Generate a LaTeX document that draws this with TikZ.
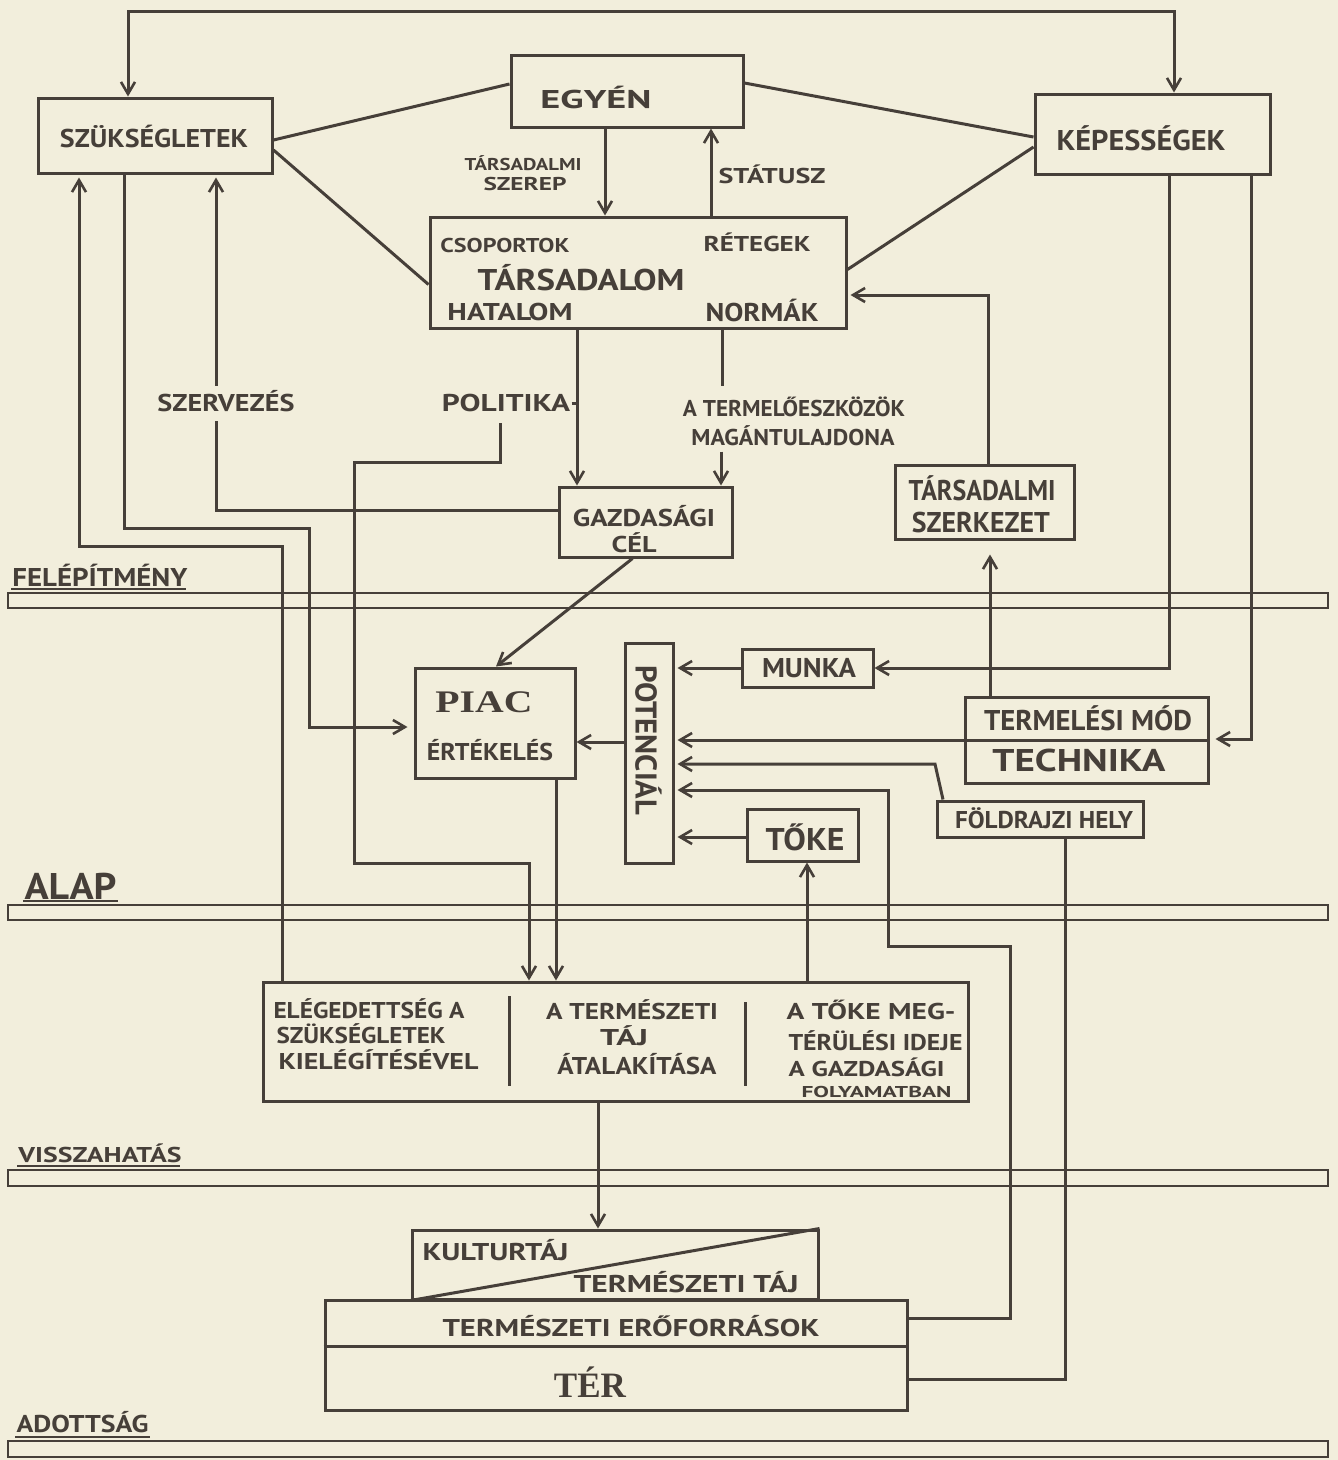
\documentclass[tikz,border=0pt]{standalone}
\usepackage{fontspec}
\setmainfont{PT Sans}
\newfontfamily\seriff{Liberation Serif}
\usetikzlibrary{arrows.meta}
\definecolor{bg}{RGB}{242,238,220}
\definecolor{ink}{RGB}{70,63,57}
\newcommand{\mytxt}[3]{\resizebox{#1pt}{#2pt}{\vphantom{X}\smash{\bfseries #3}}}
\begin{document}
\begin{tikzpicture}[x=1pt,y=-1pt,line width=3pt,color=ink,
  box/.style={draw=ink,line width=3pt,inner sep=0pt},
  band/.style={draw=ink,line width=2.6pt,inner sep=0pt,minimum width=1320},
  lab/.style={text=ink,inner sep=0pt},
  arr/.style={-{Straight Barb[length=12pt,width=14pt,line width=2.6pt]}},
  arrb/.style={{Straight Barb[length=12pt,width=14pt,line width=2.6pt]}-{Straight Barb[length=12pt,width=14pt,line width=2.6pt]}}]
\fill[bg] (0,0) rectangle (1338,1460);
\useasboundingbox (0,0) rectangle (1338,1460);

% bands
\node[band,minimum height=15] (b1) at (668,600.5) {};
\node[band,minimum height=15] (b2) at (668,912.5) {};
\node[band,minimum height=16] (b3) at (668,1178) {};
\node[band,minimum height=16] (b4) at (668,1449) {};
\node[lab,anchor=west] (lfel) at (11,577) {\mytxt{175}{18}{FELÉPÍTMÉNY}};
\node[lab,anchor=west] (lalap) at (23,886) {\mytxt{92}{26}{ALAP}};
\node[lab,anchor=west] (lvissza) at (17,1155) {\mytxt{163}{15}{VISSZAHATÁS}};
\node[lab,anchor=west] (ladott) at (15,1424) {\mytxt{132}{17}{ADOTTSÁG}};
\draw[line width=2.2pt] (lfel.south west |- 0,589) -- (186,589);
\draw[line width=2.2pt] (lalap.south west |- 0,901) -- (118,901);
\draw[line width=2.2pt] (lvissza.south west |- 0,1166) -- (180,1166);
\draw[line width=2.2pt] (ladott.south west |- 0,1437) -- (150,1437);

% boxes
\node[box,minimum width=234,minimum height=75] (szuk) at (155,135.5) {};
\node[box,minimum width=232,minimum height=72] (egyen) at (627,91) {};
\node[box,minimum width=235,minimum height=80] (kepes) at (1152.5,134) {};
\node[box,minimum width=416,minimum height=111] (tars) at (638,272.5) {};
\node[box,minimum width=173,minimum height=70] (gazd) at (645.5,522) {};
\node[box,minimum width=179,minimum height=74] (tszerk) at (984.5,502) {};
\node[box,minimum width=160,minimum height=110] (piac) at (495,723) {};
\node[box,minimum width=48,minimum height=220] (pot) at (649,753) {};
\node[box,minimum width=131,minimum height=38] (munka) at (807.5,668) {};
\node[box,minimum width=243,minimum height=86] (termel) at (1086.5,740) {};
\node[box,minimum width=206,minimum height=36] (fold) at (1040,819) {};
\node[box,minimum width=111,minimum height=52] (toke) at (802.5,835) {};
\node[box,minimum width=705,minimum height=119] (eredm) at (615.5,1041.5) {};
\node[box,minimum width=406,minimum height=69] (kult) at (615,1264.5) {};
\node[box,minimum width=582,minimum height=110] (ter) at (616,1355) {};

% dividers
\draw (termel.west) -- (termel.east);
\draw (ter.west |- 0,1346) -- (ter.east |- 0,1346);
\draw (509,996) -- (509,1086);
\draw (745,1002) -- (745,1086);
\draw (kult.south west) -- (kult.north east);

% texts in boxes
\node[lab] (tszuk) at (154,138) {\mytxt{188}{18}{SZÜKSÉGLETEK}};
\node[lab] (tegyen) at (596,99) {\mytxt{111}{18}{EGYÉN}};
\node[lab] (tkepes) at (1141,140) {\mytxt{169}{20}{KÉPESSÉGEK}};
\node[lab] (tcsop) at (505,245) {\mytxt{129}{14}{CSOPORTOK}};
\node[lab] (ttars) at (581,280) {\mytxt{207}{21}{TÁRSADALOM}};
\node[lab] (thatal) at (510,312) {\mytxt{125}{17}{HATALOM}};
\node[lab] (tret) at (757,244) {\mytxt{107}{15}{RÉTEGEK}};
\node[lab] (tnorm) at (762,312) {\mytxt{113}{18}{NORMÁK}};
\node[lab] (tgazd1) at (644,518) {\mytxt{142}{17}{GAZDASÁGI}};
\node[lab] (tgazd2) at (634,544) {\mytxt{45}{16}{CÉL}};
\node[lab] (tsz1) at (982,490) {\mytxt{147}{20}{TÁRSADALMI}};
\node[lab] (tsz2) at (981,522) {\mytxt{138}{20}{SZERKEZET}};
\node[lab] (tpiac) at (484,701) {\mytxt{97}{22}{\seriff PIAC}};
\node[lab] (tert) at (490,752) {\mytxt{126}{17}{ÉRTÉKELÉS}};
\node[lab,rotate=-90] (tpot) at (646,740) {\mytxt{150}{21}{POTENCIÁL}};
\node[lab] (tmunka) at (809,668) {\mytxt{94}{19}{MUNKA}};
\node[lab] (tterm) at (1088,720) {\mytxt{208}{20}{TERMELÉSI MÓD}};
\node[lab] (ttech) at (1079,760) {\mytxt{173}{22}{TECHNIKA}};
\node[lab] (tfold) at (1044,820) {\mytxt{178}{17}{FÖLDRAJZI HELY}};
\node[lab] (ttoke) at (805,839) {\mytxt{79}{22}{TŐKE}};
\node[lab,anchor=west] (te1) at (272,1010) {\mytxt{191}{16}{ELÉGEDETTSÉG A}};
\node[lab,anchor=west] (te2) at (275,1035) {\mytxt{169}{16}{SZÜKSÉGLETEK}};
\node[lab,anchor=west] (te3) at (277,1061) {\mytxt{200}{16}{KIELÉGÍTÉSÉVEL}};
\node[lab] (tf1) at (632,1011) {\mytxt{172}{16}{A TERMÉSZETI}};
\node[lab] (tf2) at (624,1037) {\mytxt{48}{16}{TÁJ}};
\node[lab] (tf3) at (637,1066) {\mytxt{159}{17}{ÁTALAKÍTÁSA}};
\node[lab,anchor=west] (tg1) at (785,1011) {\mytxt{169}{16}{A TŐKE MEG-}};
\node[lab,anchor=west] (tg2) at (787,1042) {\mytxt{174}{16}{TÉRÜLÉSI IDEJE}};
\node[lab,anchor=west] (tg3) at (787,1069) {\mytxt{156}{15}{A GAZDASÁGI}};
\node[lab,anchor=west] (tg4) at (800,1092) {\mytxt{150}{11}{FOLYAMATBAN}};
\node[lab,anchor=west] (tkult) at (421,1252) {\mytxt{146}{17}{KULTURTÁJ}};
\node[lab,anchor=west] (ttermt) at (572,1284) {\mytxt{225}{17}{TERMÉSZETI TÁJ}};
\node[lab,anchor=west] (terof) at (441,1328) {\mytxt{377}{17}{TERMÉSZETI ERŐFORRÁSOK}};
\node[lab] (tter) at (590,1385) {\mytxt{72}{25}{\seriff TÉR}};

% connector labels
\node[lab] (lszer1) at (523,164) {\mytxt{117}{12}{TÁRSADALMI}};
\node[lab] (lszer2) at (525,184) {\mytxt{83}{13}{SZEREP}};
\node[lab] (lstat) at (772,176) {\mytxt{107}{15}{STÁTUSZ}};
\node[lab] (pol) at (506,403) {\mytxt{128}{17}{POLITIKA}};
\node[lab] (tl1) at (794,408) {\mytxt{222}{16}{A TERMELŐESZKÖZÖK}};
\node[lab] (tl2) at (793,437) {\mytxt{203}{16}{MAGÁNTULAJDONA}};

% connectors
\draw[arrb] (szuk.north -| 128,0) -- (128,11) -- (1174,11) -- (kepes.north -| 1174,0);
\draw ([yshift=-4.5pt]szuk.east) -- ([yshift=7pt]egyen.west);
\draw ([yshift=-14.5pt]szuk.east) -- ([yshift=-12pt]tars.west);
\draw ([yshift=8pt]egyen.east) -- ([yshift=-3pt]kepes.west);
\draw ([yshift=3pt]tars.east) -- ([yshift=-13pt]kepes.west);
\draw[arr] (egyen.south -| 605,0) -- (tars.north -| 605,0);
\draw[arr] (tars.north -| 711,0) -- (egyen.south -| 711,0);
\draw[arr] (tars.south -| 577,0) -- (gazd.north -| 577,0);
\draw (pol.east) -- (pol.east -| 577,0);
\draw[arr,shorten <=10pt] (pol.south -| 500,0) -- (500,462) -- (354,462) -- (354,863) -- (529,863) -- (eredm.north -| 529,0);
\draw[shorten >=13pt] (tars.south -| 722,0) -- (tl1.north -| 722,0);
\draw[arr,shorten <=5pt] (tl2.south -| 721,0) -- (gazd.north -| 721,0);
\draw[arr,shorten >=3pt] ([yshift=12pt]gazd.west) -- (216,510) -- (szuk.south -| 216,0);
\node[lab,fill=bg,inner xsep=2pt,inner ysep=9pt] (szerv) at (226,403) {\mytxt{137}{17}{SZERVEZÉS}};
\draw[arr,shorten >=6pt] (szuk.south -| 124,0) -- (124,528) -- (309,528) -- (309,727) -- (piac.west |- 0,727);
\draw[arr,shorten >=3pt] (eredm.north -| 282,0) -- (282,546) -- (79,546) -- (szuk.south -| 79,0);
\draw[arr] ([xshift=-13pt]gazd.south) -- ([xshift=1pt]piac.north);
\draw[arr] (pot.west |- 0,742) -- (piac.east |- 0,742);
\draw[arr] (piac.south -| 556,0) -- (eredm.north -| 556,0);
\draw[arr,shorten >=3pt] (tszerk.north -| 988,0) -- (988,295) -- (tars.east |- 0,295);
\draw[arr,shorten >=14pt] (termel.north -| 990,0) -- (tszerk.south -| 990,0);
\draw[arr] (kepes.south -| 1169,0) -- (1169,668) -- (munka.east);
\draw[arr,shorten >=6pt] (kepes.south -| 1251,0) -- (1251,739) -- (termel.east |- 0,739);
\draw[arr,shorten >=3pt] (munka.west) -- (pot.east |- munka.west);
\draw[arr,shorten >=3pt] (termel.west) -- (pot.east |- termel.west);
\draw[arr,shorten >=3pt] (fold.north -| 943,0) -- (935,764) -- (pot.east |- 0,764);
\draw[arr,shorten >=3pt] (ter.east |- 0,1318) -- (1010,1318) -- (1010,946) -- (888,946) -- (888,790) -- (pot.east |- 0,790);
\draw[arr,shorten >=3pt] (toke.west |- 0,837) -- (pot.east |- 0,837);
\draw[arr] (eredm.north -| 807,0) -- (toke.south -| 807,0);
\draw (fold.south -| 1065,0) -- (1065,1379) -- (ter.east |- 0,1379);
\draw[arr] (eredm.south -| 598,0) -- (kult.north -| 598,0);
\end{tikzpicture}
\end{document}
